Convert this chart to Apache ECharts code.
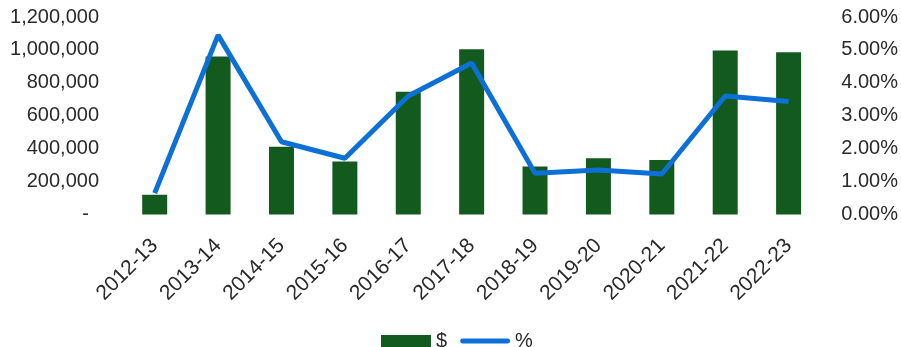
<!DOCTYPE html>
<html>
<head>
<meta charset="utf-8">
<script src="https://cdn.jsdelivr.net/npm/echarts@6/dist/echarts.min.js"></script>
<style>html,body{margin:0;padding:0;background:#fff}#c{width:901px;height:347px}</style>
</head>
<body>
<div id="c"></div>
<script>
const categories = ['2012-13','2013-14','2014-15','2015-16','2016-17','2017-18','2018-19','2019-20','2020-21','2021-22','2022-23'];
const dollarValues = [120000, 960000, 412000, 322000, 746000, 1004000, 291000, 342000, 331000, 996000, 986000];
const percentValues = [0.65, 5.45, 2.21, 1.71, 3.60, 4.60, 1.25, 1.35, 1.23, 3.60, 3.43];
const seriesNames = ['$', '%'];

function fmtNum(v){
  if (v === 0) return '{z|-}';
  return String(v).replace(/\B(?=(\d{3})+(?!\d))/g, ',');
}
const textColor = '#2a2a2a';
const font = 'Liberation Sans';
const chart = echarts.init(document.getElementById('c'), null, {renderer:'canvas'});
chart.setOption({
  animation: false,
  backgroundColor: '#fff',
  textStyle: {fontFamily: font, color: textColor},
  grid: {left: 123, right: 79, top: 17, bottom: 132.5, containLabel: false},
  legend: {
    bottom: -9, left: 376,
    itemWidth: 50, itemHeight: 12, itemGap: 13,
    textStyle: {fontFamily: font, fontSize: 20, color: textColor},
    data: [
      {name: '$', icon: 'rect'},
      {name: '%', icon: 'path://M2.5,0 L49.5,0 A2.5,2.5 0 0 1 49.5,5 L2.5,5 A2.5,2.5 0 0 1 2.5,0 Z'}
    ]
  },
  xAxis: {
    type: 'category', data: categories, boundaryGap: true,
    axisLine: {show: false}, axisTick: {show: false},
    axisLabel: {rotate: 45, margin: 28, fontSize: 21, color: textColor, fontFamily: font, interval: 0}
  },
  yAxis: [
    {type: 'value', min: 0, max: 1200000, interval: 200000,
     axisLine: {show: false}, axisTick: {show: false}, splitLine: {show: false},
     axisLabel: {margin: 24, fontSize: 20, color: textColor, fontFamily: font, formatter: fmtNum,
       rich: {z: {fontSize: 20, fontFamily: font, color: textColor, padding: [0, 10, 0, 0]}}}},
    {type: 'value', min: 0, max: 6, interval: 1, position: 'right',
     axisLine: {show: false}, axisTick: {show: false}, splitLine: {show: false},
     axisLabel: {margin: 21, fontSize: 20, color: textColor, fontFamily: font, formatter: v => v.toFixed(2) + '%'}}
  ],
  series: [
    {name: seriesNames[0], type: 'bar', data: dollarValues, barWidth: 25, itemStyle: {color: '#135a1f'}, yAxisIndex: 0},
    {name: seriesNames[1], type: 'line', data: percentValues, yAxisIndex: 1, symbol: 'none', showSymbol: false,
     lineStyle: {color: '#0d70d6', width: 5}, itemStyle: {color: '#0d70d6'}}
  ]
});
</script>
</body>
</html>
